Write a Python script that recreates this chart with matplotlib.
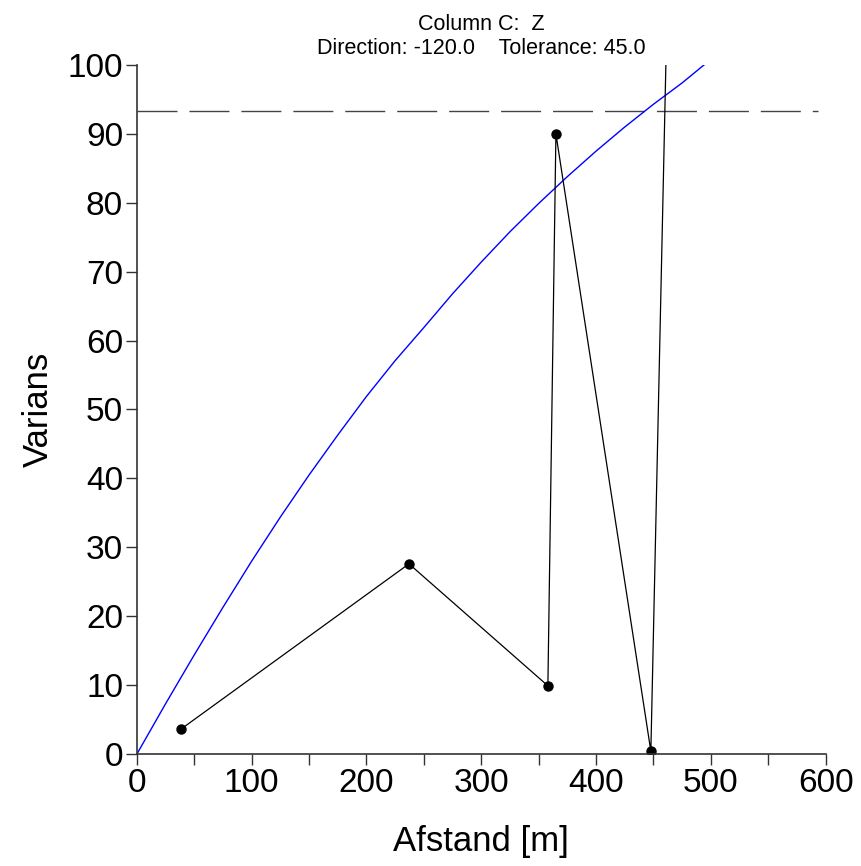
import numpy as np
import matplotlib.pyplot as plt

plt.rcParams['font.family'] = ['Liberation Sans', 'DejaVu Sans']

# experimental variogram (last lag lies above the plotted range)
lag = [38.3, 237.0, 358.0, 365.0, 447.7, 463.4]
gamma = [3.6, 27.6, 9.9, 90.0, 0.4, 120.0]

# fitted model
model_x = [0, 25, 50, 75, 100, 125, 150, 175, 200, 225, 250, 275, 300,
           325, 350, 375, 400, 425, 450, 475, 494]
model_y = [0, 7.3, 14.4, 21.3, 28.0, 34.4, 40.5, 46.3, 51.9, 57.1, 61.9,
           66.8, 71.4, 75.8, 79.9, 83.8, 87.5, 91.0, 94.3, 97.4, 100.0]

sill = 93.3
sill_end = 593

title = "Column C:  Z\nDirection: -120.0    Tolerance: 45.0"

fig = plt.figure(figsize=(8.61, 8.66), dpi=100)
ax = fig.add_axes([0.159, 0.1293, 0.8, 0.7957])

ax.hlines(sill, 0, sill_end, colors='#444444', linewidth=1.0,
          linestyles=(0, (28.8, 8.6)))
ax.plot(model_x, model_y, color='blue', linewidth=1.0)
ax.plot(lag, gamma, color='black', linewidth=0.9)
ax.plot(lag, gamma, 'o', color='black', markersize=6.5)

ax.set_xlim(0, 600)
ax.set_ylim(0, 100)
ax.set_xticks(np.arange(0, 601, 100))
ax.set_xticks(np.arange(0, 601, 50), minor=True)
ax.set_yticks(np.arange(0, 101, 10))

for s in ['top', 'right']:
    ax.spines[s].set_visible(False)
for s in ['left', 'bottom']:
    ax.spines[s].set_color('#333333')
    ax.spines[s].set_linewidth(1.2)

ax.tick_params(axis='both', which='both', direction='out', length=8,
               width=1.0, color='#333333', labelsize=24, pad=2)

ax.set_xlabel('Afstand [m]', fontsize=25, labelpad=19)
ax.set_ylabel('Varians', fontsize=25, labelpad=9)
ax.set_title(title, fontsize=15.5, pad=8, linespacing=1.15)

fig.savefig('out.png', dpi=100)
